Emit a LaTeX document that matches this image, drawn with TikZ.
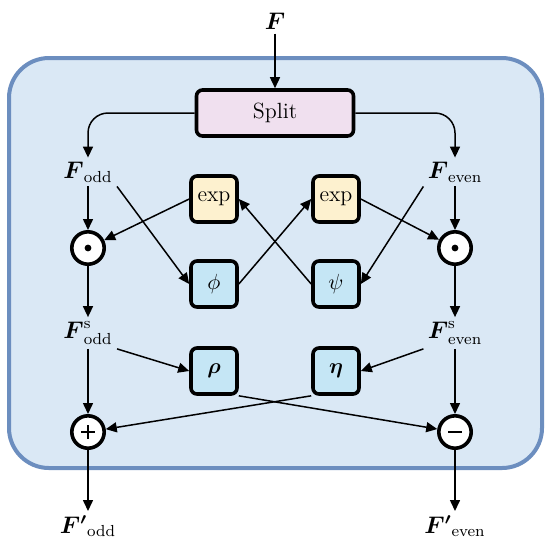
\documentclass[tikz,border=0pt]{standalone}
\usepackage{amsmath,amssymb}
\usepackage{tikz}
\usetikzlibrary{arrows.meta}

\definecolor{panelfill}{RGB}{218,232,245}
\definecolor{paneledge}{RGB}{108,142,191}
\definecolor{splitfill}{RGB}{240,224,239}
\definecolor{expfill}{RGB}{253,241,207}
\definecolor{mapfill}{RGB}{197,230,245}

\begin{document}
\begin{tikzpicture}[x=0.5pt, y=-0.5pt,
	arr/.style={-{Triangle[length=5.5pt,width=5pt]}, line width=0.75pt},
	blk/.style={draw, line width=1.8pt, rounded corners=3pt, minimum width=23pt, minimum height=23pt, inner sep=0pt, font=\fontsize{11}{13}\selectfont},
	opr/.style={circle, draw, fill=white, line width=1.8pt, minimum size=16.2pt, inner sep=0pt},
	sgn/.style={line width=1.4pt},
	lab/.style={font=\large, inner sep=2pt}]
\useasboundingbox (0,0) rectangle (550,537);
\draw[fill=panelfill, draw=paneledge, line width=2pt, rounded corners=20pt] (9,58) rectangle (542,468);

\node[lab] (fin) at (275,21) {$\boldsymbol{F}$};
\node[blk, fill=splitfill, minimum width=78.5pt] (split) at (275,113) {Split};

\node[lab] (fodd) at (88,172) {$\boldsymbol{F}_{\mathrm{odd}}$};
\node[lab] (feven) at (455,172) {$\boldsymbol{F}_{\mathrm{even}}$};

\node[blk, fill=expfill] (expl) at (214,199) {exp};
\node[blk, fill=expfill] (expr) at (336,199) {exp};
\node[blk, fill=mapfill] (phi) at (214,284) {$\phi$};
\node[blk, fill=mapfill] (psi) at (336,284) {$\psi$};

\node[opr] (mull) at (88,248) {};
\node[opr] (mulr) at (455,248) {};
\fill (mull) circle (1.7pt);
\fill (mulr) circle (1.7pt);

\node[lab] (fodds) at (88,333) {$\boldsymbol{F}^{\mathrm{s}}_{\mathrm{odd}}$};
\node[lab] (fevens) at (455,333) {$\boldsymbol{F}^{\mathrm{s}}_{\mathrm{even}}$};

\node[blk, fill=mapfill] (rho) at (214,371) {$\boldsymbol{\rho}$};
\node[blk, fill=mapfill] (eta) at (336,371) {$\boldsymbol{\eta}$};

\node[opr] (add) at (88,432) {};
\node[opr] (sub) at (455,432) {};
\draw[sgn] ([xshift=-3.3pt]add.center) -- ([xshift=3.3pt]add.center);
\draw[sgn] ([yshift=-3.3pt]add.center) -- ([yshift=3.3pt]add.center);
\draw[sgn] ([xshift=-3.3pt]sub.center) -- ([xshift=3.3pt]sub.center);

\node[lab] (foddp) at (88,526) {$\boldsymbol{F'}_{\mathrm{odd}}$};
\node[lab] (fevenp) at (455,526) {$\boldsymbol{F'}_{\mathrm{even}}$};

\draw[arr] (fin) -- (split);
\draw[arr, rounded corners=10pt] (split.west) -| (fodd.north);
\draw[arr, rounded corners=10pt] (split.east) -| (feven.north);

\draw[arr] (fodd) -- (mull);
\draw[arr] (feven) -- (mulr);
\draw[arr] (fodd.south east) -- (phi.west);
\draw[arr] (feven.south west) -- (psi.east);
\draw[arr] (expl.west) -- (mull);
\draw[arr] (expr.east) -- (mulr);
\draw[arr] (phi.east) -- (expr.west);
\draw[arr] (psi.west) -- (expl.east);

\draw[arr] (mull) -- (fodds);
\draw[arr] (mulr) -- (fevens);

\draw[arr] (fodds) -- (add);
\draw[arr] (fevens) -- (sub);
\draw[arr] (fodds.south east) -- (rho.west);
\draw[arr] (fevens.south west) -- (eta.east);
\draw[arr] (rho.south east) -- (sub);
\draw[arr] (eta.south west) -- (add);

\draw[arr] (add) -- (foddp);
\draw[arr] (sub) -- (fevenp);
\end{tikzpicture}
\end{document}
